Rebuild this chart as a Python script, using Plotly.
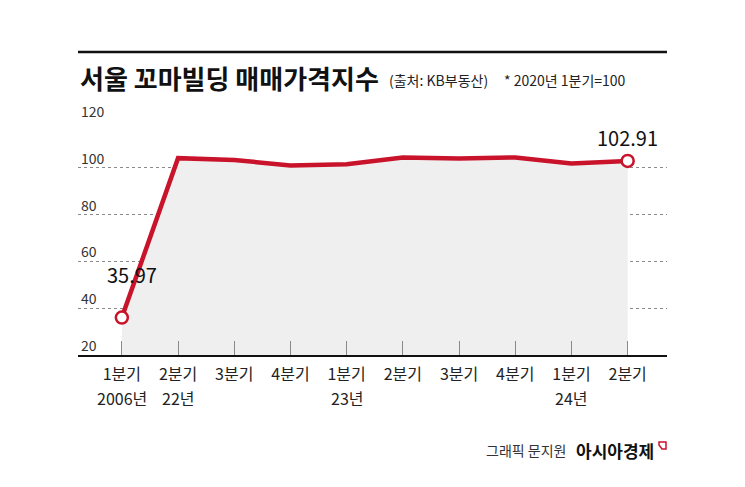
import plotly.graph_objects as go

# ---- data ----
quarter_labels = ["1분기", "2분기", "3분기", "4분기", "1분기",
                  "2분기", "3분기", "4분기", "1분기", "2분기"]
year_labels = ["2006년", "22년", "", "", "23년", "", "", "", "24년", ""]
index_values = [35.97, 104.1, 103.3, 101.0, 101.5, 104.4, 104.0, 104.4, 101.8, 102.91]
y_ticks = [20, 40, 60, 80, 100, 120]

x_pos = list(range(len(index_values)))
RED = "#c8132b"
FONT = "Noto Sans CJK KR"

fig = go.Figure()

# area fill + line
fig.add_trace(go.Scatter(
    x=x_pos, y=index_values, mode="lines",
    line=dict(color=RED, width=4.5),
    fill="tozeroy", fillcolor="#efefef",
    hoverinfo="skip", showlegend=False,
))

# end markers
fig.add_trace(go.Scatter(
    x=[x_pos[0], x_pos[-1]], y=[index_values[0], index_values[-1]],
    mode="markers",
    marker=dict(size=12, color="white", line=dict(color=RED, width=2.5)),
    cliponaxis=False, showlegend=False, hoverinfo="skip",
))

# value labels
fig.add_annotation(x=x_pos[0], y=index_values[0], text=f"{index_values[0]:.2f}",
                   showarrow=False, xshift=10, yshift=43,
                   font=dict(family=FONT, size=20, color="#111"))
fig.add_annotation(x=x_pos[-1], y=index_values[-1], text=f"{index_values[-1]:.2f}",
                   showarrow=False, xshift=0, yshift=23,
                   font=dict(family=FONT, size=20, color="#111"))

fig.update_layout(
    width=745, height=487,
    margin=dict(l=78, r=78, t=120, b=132),
    paper_bgcolor="white", plot_bgcolor="white",
    font=dict(family=FONT, color="#222"),
    xaxis=dict(
        range=[-0.78, 9.7],
        tickmode="array", tickvals=x_pos, ticktext=quarter_labels,
        showgrid=False, zeroline=False,
        showline=True, linecolor="#111", linewidth=1.5,
        ticks="inside", ticklen=14, tickcolor="#8a8a8a", tickwidth=1,
        ticklabelstandoff=4,
        tickfont=dict(family=FONT, size=16, color="#222"),
    ),
    yaxis=dict(
        range=[20, 120.4],
        tickmode="array", tickvals=y_ticks, showticklabels=False,
        showgrid=True, gridcolor="#8a8a8a", griddash="dot", gridwidth=1,
        zeroline=False, showline=False, ticks="",
    ),
)

# y tick labels sitting above their gridlines
for v in y_ticks:
    fig.add_annotation(xref="paper", yref="y", x=0, y=v, text=str(v),
                       showarrow=False, xanchor="left", yanchor="bottom",
                       xshift=1, yshift=-2,
                       font=dict(family=FONT, size=14, color="#333"))

# year line under quarter labels
for xp, yl in zip(x_pos, year_labels):
    if yl:
        fig.add_annotation(xref="x", yref="paper", x=xp, y=0, text=yl,
                           showarrow=False, yanchor="middle", yshift=-43,
                           font=dict(family=FONT, size=16, color="#222"))

def px_to_paper_y(py):
    return (487 - 132 - py) / 235.0

def px_to_paper_x(px):
    return (px - 78) / 589.0

# top rule
fig.add_shape(type="line", xref="paper", yref="paper", x0=0, x1=1,
              y0=px_to_paper_y(52), y1=px_to_paper_y(52),
              line=dict(color="#111", width=2.5))

fig.add_annotation(xref="paper", yref="paper", x=px_to_paper_x(78), y=px_to_paper_y(77),
                   text="<b>서울 꼬마빌딩 매매가격지수</b>", showarrow=False,
                   xanchor="left", yanchor="middle",
                   font=dict(family=FONT, size=26, color="#111"))
fig.add_annotation(xref="paper", yref="paper", x=px_to_paper_x(387), y=px_to_paper_y(80),
                   text="(출처: KB부동산)", showarrow=False,
                   xanchor="left", yanchor="middle",
                   font=dict(family=FONT, size=14, color="#222"))
fig.add_annotation(xref="paper", yref="paper", x=px_to_paper_x(502), y=px_to_paper_y(80),
                   text="* 2020년 1분기=100", showarrow=False,
                   xanchor="left", yanchor="middle",
                   font=dict(family=FONT, size=14, color="#222"))

# footer
fig.add_annotation(xref="paper", yref="paper", x=px_to_paper_x(568), y=px_to_paper_y(450),
                   text="그래픽 문지원", showarrow=False,
                   xanchor="right", yanchor="middle",
                   font=dict(family=FONT, size=14, color="#333"))
fig.add_annotation(xref="paper", yref="paper", x=px_to_paper_x(574), y=px_to_paper_y(450),
                   text="<b>아시아경제</b>", showarrow=False,
                   xanchor="left", yanchor="middle",
                   font=dict(family=FONT, size=17, color="#111"))
fig.add_shape(type="path", xref="paper", yref="paper",
              path=f"M {px_to_paper_x(659)},{px_to_paper_y(442)} L {px_to_paper_x(666)},{px_to_paper_y(442)} "
                   f"L {px_to_paper_x(666)},{px_to_paper_y(449)} L {px_to_paper_x(662)},{px_to_paper_y(449)} "
                   f"L {px_to_paper_x(659)},{px_to_paper_y(445)} Z",
              line=dict(color=RED, width=1.5), fillcolor="rgba(0,0,0,0)")

fig.write_html("out.html")
